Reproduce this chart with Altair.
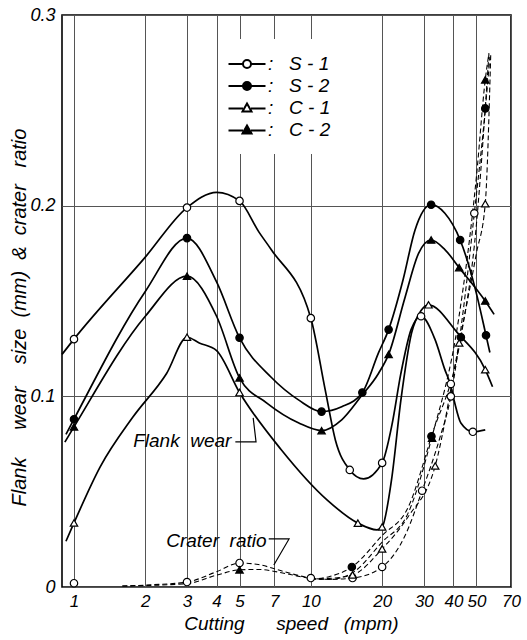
import altair as alt
import pandas as pd

FONT = "Liberation Sans"
NB = "\u00a0"

names = ["S" + NB + "-" + NB + "1", "S" + NB + "-" + NB + "2",
         "C" + NB + "-" + NB + "1", "C" + NB + "-" + NB + "2"]
fills = ["white", "black", "white", "black"]
shapes = ["circle", "circle", "triangle-up", "triangle-up"]

x_ticks = [1, 2, 3, 4, 5, 7, 10, 20, 30, 40, 50, 70]
y_ticks = [0, 0.1, 0.2, 0.3]

# ---- flank wear curves ----
s1_fx = [0.89, 1, 2, 3, 4, 5, 6.05, 6.8, 10, 11.5, 12.7, 14.6, 16.7, 20, 22, 24, 26.5, 29.2, 33.4, 36.8, 39, 40.5, 43, 48.3, 54.5]
s1_fy = [0.122, 0.130, 0.173, 0.199, 0.207, 0.2025, 0.186, 0.177, 0.141, 0.1034, 0.077, 0.0614, 0.0567, 0.0651, 0.085, 0.112, 0.135, 0.142, 0.130, 0.114, 0.1055, 0.0966, 0.086, 0.0814, 0.0824]

s2_fx = [0.925, 1, 2, 3, 4, 5, 6.8, 8.9, 11.1, 13.5, 16.5, 19.3, 21.3, 24.5, 27.5, 32.2, 36.8, 42.7, 49.3, 54.9, 57]
s2_fy = [0.080, 0.088, 0.155, 0.183, 0.160, 0.1307, 0.110, 0.098, 0.092, 0.0945, 0.102, 0.1228, 0.135, 0.161, 0.187, 0.2005, 0.196, 0.182, 0.157, 0.132, 0.123]

c1_fx = [0.925, 1, 1.29, 1.77, 2.46, 3, 3.38, 4, 5, 7.5, 11.7, 15.8, 19, 20, 21.9, 24, 26.6, 29.2, 31.4, 41.8, 54.5, 58.5]
c1_fy = [0.024, 0.0336, 0.063, 0.089, 0.112, 0.131, 0.128, 0.124, 0.102, 0.072, 0.0457, 0.0335, 0.0300, 0.0315, 0.056, 0.098, 0.133, 0.145, 0.148, 0.133, 0.114, 0.105]

c2_fx = [0.915, 1, 2, 3, 4, 5, 6.5, 8.9, 11.1, 13.5, 16.3, 19.3, 21.3, 25, 28.5, 32.2, 36.8, 42.3, 54.5, 59.4]
c2_fy = [0.076, 0.084, 0.142, 0.163, 0.142, 0.1097, 0.0966, 0.086, 0.082, 0.0877, 0.100, 0.112, 0.122, 0.152, 0.175, 0.182, 0.177, 0.1675, 0.150, 0.143]

# ---- crater ratio curves (dashed) ----
s1_cx = [1.6, 2, 3, 4, 5, 6, 7.5, 10, 12, 15, 20, 25, 29.5, 35, 39, 44, 49, 54, 57]
s1_cy = [0.0005, 0.001, 0.0026, 0.008, 0.0126, 0.0118, 0.0085, 0.0047, 0.0040, 0.0047, 0.0105, 0.027, 0.0505, 0.078, 0.100, 0.145, 0.196, 0.245, 0.278]

s2_cx = [10, 12, 14.9, 20, 25.8, 32.3, 43, 50, 54.5, 56.5]
s2_cy = [0.004, 0.0055, 0.0105, 0.027, 0.042, 0.079, 0.131, 0.19, 0.251, 0.28]

c1_cx = [10, 12, 15, 20, 25.8, 33.5, 42.3, 50, 54.5, 57.5]
c1_cy = [0.004, 0.0045, 0.0063, 0.020, 0.037, 0.0635, 0.128, 0.175, 0.201, 0.28]

c2_cx = [1.6, 3, 4, 5, 6, 8, 10, 12, 15, 20, 25.8, 32.5, 42, 50, 54.5, 56.5]
c2_cy = [0.0005, 0.0018, 0.0062, 0.009, 0.0092, 0.0068, 0.0045, 0.004, 0.0075, 0.0236, 0.039, 0.079, 0.14, 0.215, 0.266, 0.28]

# ---- measured points (markers) ----
s1_mx = [1, 3, 5, 10, 14.6, 20, 29.2, 39, 48.3, 1, 3, 5, 10, 15, 20, 29.5, 39, 49]
s1_my = [0.130, 0.199, 0.2025, 0.141, 0.0614, 0.0651, 0.142, 0.1065, 0.0814, 0.002, 0.0026, 0.0126, 0.0047, 0.0047, 0.0105, 0.0505, 0.100, 0.196]
s2_mx = [1, 3, 5, 11.1, 16.5, 21.3, 32.2, 42.7, 54.9, 14.9, 32.3, 43, 54.5]
s2_my = [0.088, 0.183, 0.1307, 0.092, 0.102, 0.135, 0.2005, 0.182, 0.132, 0.0105, 0.079, 0.131, 0.251]
c1_mx = [1, 3, 5, 15.8, 20, 31.4, 54.5, 15, 20, 33.5, 42.3, 54.5]
c1_my = [0.0336, 0.131, 0.102, 0.0335, 0.0315, 0.148, 0.114, 0.0063, 0.020, 0.0635, 0.128, 0.201]
c2_mx = [1, 3, 5, 11.1, 21.3, 32.2, 42.3, 54.5, 5, 32.5, 54.5]
c2_my = [0.084, 0.163, 0.1097, 0.082, 0.122, 0.182, 0.1675, 0.150, 0.009, 0.078, 0.266]

# ---- annotations ----
ann_text = ["Flank" + NB + NB + "wear", "Crater" + NB + NB + "ratio"]
ann_x = [4.62, 6.5]
ann_y = [0.0766, 0.0241]
lead_grp = ["f", "f", "f", "c", "c", "c"]
lead_i = [0, 1, 2, 0, 1, 2]
lead_x = [4.80, 5.87, 5.71, 6.64, 8.09, 6.98]
lead_y = [0.0761, 0.0761, 0.0887, 0.0252, 0.0252, 0.0115]


def frame(name, xs, ys):
    return pd.DataFrame({"series": name, "x": xs, "y": ys})


flank_df = pd.concat([frame(names[0], s1_fx, s1_fy), frame(names[1], s2_fx, s2_fy),
                      frame(names[2], c1_fx, c1_fy), frame(names[3], c2_fx, c2_fy)])
crater_df = pd.concat([frame(names[0], s1_cx, s1_cy), frame(names[1], s2_cx, s2_cy),
                       frame(names[2], c1_cx, c1_cy), frame(names[3], c2_cx, c2_cy)])
mark_df = pd.concat([frame(names[0], s1_mx, s1_my), frame(names[1], s2_mx, s2_my),
                     frame(names[2], c1_mx, c1_my), frame(names[3], c2_mx, c2_my)])
ann_df = pd.DataFrame({"x": ann_x, "y": ann_y, "text": ann_text})
lead_df = pd.DataFrame({"grp": lead_grp, "i": lead_i, "x": lead_x, "y": lead_y})
legend_df = pd.DataFrame({"series": names, "x": [1] * 4, "y": [0.0] * 4})

xscale = alt.Scale(type="log", domain=[0.89, 70], nice=False)
yscale = alt.Scale(domain=[0, 0.3], nice=False, zero=False)

xaxis = alt.Axis(values=x_ticks, format="d",
                 title="Cutting" + NB * 6 + "speed" + NB * 3 + "(mpm)",
                 grid=True, gridColor="#555555", gridWidth=1, domain=False, ticks=False,
                 labelFont=FONT, labelFontStyle="italic", labelFontSize=17, labelColor="black",
                 labelPadding=6, labelFlush=False, labelOverlap=False,
                 titleFont=FONT, titleFontStyle="italic", titleFontWeight="normal", titleFontSize=19,
                 titleColor="black", titleX=229, titleY=36, titleBaseline="middle", titleAlign="center")
yaxis = alt.Axis(values=y_ticks, format=".1~f",
                 title="Flank" + NB * 5 + "wear" + NB * 4 + "size" + NB * 2 + "(mm)" + NB * 2 + "&" + NB * 2 + "crater" + NB * 3 + "ratio",
                 grid=True, gridColor="#555555", gridWidth=1, domain=False, ticks=False,
                 labelFont=FONT, labelFontStyle="italic", labelFontSize=18, labelColor="black",
                 labelPadding=7, labelFlush=False,
                 titleFont=FONT, titleFontStyle="italic", titleFontWeight="normal", titleFontSize=20,
                 titleColor="black", titleX=-43, titleY=302, titleBaseline="middle", titleAlign="center",
                 titleAngle=270)

X = alt.X("x:Q", scale=xscale, axis=xaxis)
Y = alt.Y("y:Q", scale=yscale, axis=yaxis)

flank = alt.Chart(flank_df).mark_line(color="black", strokeWidth=1.7, interpolate="monotone").encode(
    x=X, y=Y, detail="series:N")
crater = alt.Chart(crater_df).mark_line(color="black", strokeWidth=1.1, strokeDash=[5, 3],
                                        interpolate="monotone").encode(x=X, y=Y, detail="series:N")
markers = alt.Chart(mark_df).mark_point(filled=True, stroke="black", strokeWidth=1.2, size=55, opacity=1).encode(
    x=X, y=Y,
    shape=alt.Shape("series:N", scale=alt.Scale(domain=names, range=shapes), legend=None),
    fill=alt.Fill("series:N", scale=alt.Scale(domain=names, range=fills), legend=None))

circ = ("M-1.85,0H-0.4 M0.4,0A0.4,0.4 0 1,1 -0.4,0A0.4,0.4 0 1,1 0.4,0Z "
        "M0.4,0H1.85")
tri = ("M-1.85,0.05H-0.4 M0.4,0.05H1.85 M0,-0.45L0.45,0.35L-0.45,0.35Z")
legend_paths = [circ, circ, tri, tri]

leg = alt.Legend(orient="none", legendX=160, legendY=24, title=None, fillColor="white", padding=14,
                 labelFont=FONT, labelFontStyle="italic", labelFontSize=19, labelColor="black",
                 labelExpr="':" + NB * 3 + "' + datum.label",
                 symbolSize=400, symbolStrokeWidth=2, symbolStrokeColor="black",
                 labelOffset=10, rowPadding=1)
legend_layer = alt.Chart(legend_df).transform_filter("false").mark_point(
    filled=True, strokeWidth=2, size=400, opacity=1).encode(
    x=X, y=Y,
    shape=alt.Shape("series:N", scale=alt.Scale(domain=names, range=legend_paths), legend=leg),
    fill=alt.Fill("series:N", scale=alt.Scale(domain=names, range=fills), legend=leg),
    stroke=alt.Stroke("series:N", scale=alt.Scale(domain=names, range=["black"] * 4), legend=leg))

ann = alt.Chart(ann_df).mark_text(align="right", baseline="middle", font=FONT, fontStyle="italic",
                                  fontSize=19, color="black").encode(x=X, y=Y, text="text:N")
lead = alt.Chart(lead_df).mark_line(color="black", strokeWidth=1.2).encode(
    x=X, y=Y, detail="grp:N", order="i:Q")

chart = alt.layer(flank, crater, lead, ann, markers, legend_layer).resolve_scale(
    shape="independent", fill="independent", stroke="independent"
).properties(
    width=449, height=572, autosize="none",
    padding={"left": 62, "top": 15, "right": 16, "bottom": 53},
).configure_view(stroke="black", strokeWidth=1.6)

chart.save("out.html", embed_options={"renderer": "svg", "actions": False})
